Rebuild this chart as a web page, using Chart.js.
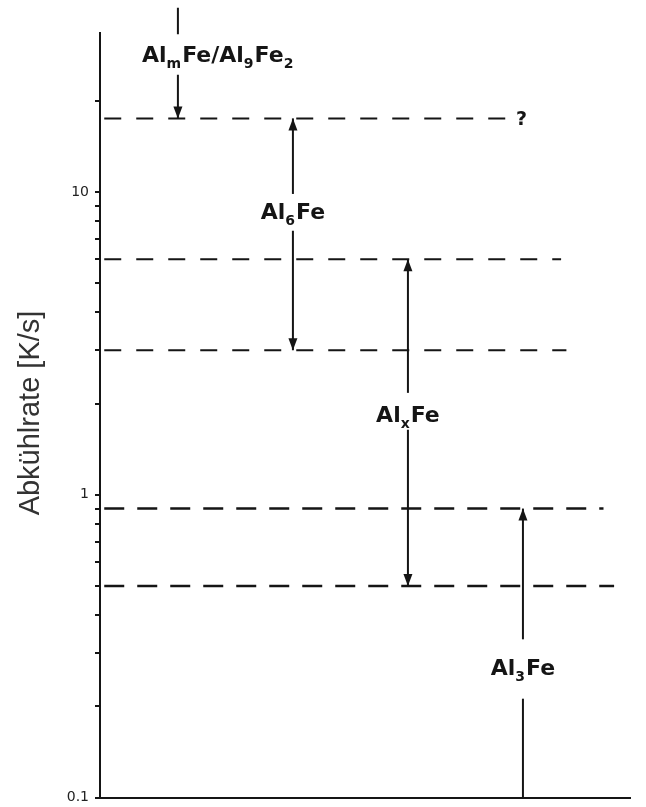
<!DOCTYPE html>
<html>
<head>
<meta charset="utf-8">
<script src="https://cdn.jsdelivr.net/npm/chart.js@4/dist/chart.umd.min.js"></script>
<style>
  html, body { margin: 0; padding: 0; background: #fff; }
</style>
</head>
<body>
<canvas id="myChart" width="646" height="807"></canvas>
<script>
// y axis ticks (log scale), only the decades get a label
var yTicks = [0.1, 0.2, 0.3, 0.4, 0.5, 0.6, 0.7, 0.8, 0.9, 1, 2, 3, 4, 5, 6, 7, 8, 9, 10, 20];
var yTickLabels = { '0.1': '0.1', '1': '1', '10': '10' };

// critical cooling rates [K/s] (dashed levels) and how far they run along x
var levels = [17.5, 6, 3, 0.9, 0.5];
var levelEnd = [77, 87, 88, 95, 97];

// phases, their arrow positions and ranges
var phases = ['AlmFe/Al9Fe2', 'Al6Fe', 'AlxFe', 'Al3Fe'];
var phaseX = [14.7, 36.4, 58.1, 79.8];
// each arrow: [from, to, head at 'to'] pieces, with a gap for the label
var arrowParts = [
  [[40.6, 33.2, false], [24.4, 17.5, true]],
  [[9.85, 17.5, true], [7.45, 3, true]],
  [[2.17, 6, true], [1.64, 0.5, true]],
  [[0.1, 0.212, false], [0.333, 0.9, true]]
];
// label anchors (x, rate)
var labelX = [22.3, 36.4, 58.1, 79.8];
var labelY = [28, 8.53, 1.82, 0.266];
var labelParts = [
  [['Al', 0], ['m', 1], ['Fe', 0], ['/', 0], ['Al', 0], ['9', 1], ['Fe', 0], ['2', 1]],
  [['Al', 0], ['6', 1], ['Fe', 0]],
  [['Al', 0], ['x', 1], ['Fe', 0]],
  [['Al', 0], ['3', 1], ['Fe', 0]]
];

var ink = '#151515';

var datasets = [];
levels.forEach(function (v, i) {
  datasets.push({
    data: [{ x: 0.8, y: v }, { x: levelEnd[i], y: v }],
    borderColor: ink,
    borderWidth: i < 3 ? 2 : 2.5,
    borderDash: i < 3 ? [17, 15] : [20, 13],
    pointRadius: 0,
    clip: false
  });
});
arrowParts.forEach(function (parts, i) {
  parts.forEach(function (p) {
    datasets.push({
      data: [{ x: phaseX[i], y: p[0] }, { x: phaseX[i], y: p[1] }],
      borderColor: ink,
      borderWidth: 2,
      pointRadius: 0,
      clip: false
    });
  });
});

var overlay = {
  id: 'overlay',
  afterDatasetsDraw: function (chart) {
    var c = chart.ctx, xs = chart.scales.x, ys = chart.scales.y;
    c.save();
    c.fillStyle = ink;
    // arrow heads
    arrowParts.forEach(function (parts, i) {
      parts.forEach(function (p) {
        if (!p[2]) return;
        var px = xs.getPixelForValue(phaseX[i]);
        var tip = ys.getPixelForValue(p[1]);
        var dir = p[1] > p[0] ? 1 : -1; // 1 = pointing up
        c.beginPath();
        c.moveTo(px, tip);
        c.lineTo(px - 4.5, tip + dir * 12);
        c.lineTo(px + 4.5, tip + dir * 12);
        c.closePath();
        c.fill();
      });
    });
    // phase labels with subscripts
    labelParts.forEach(function (parts, i) {
      var big = 'bold 22px "DejaVu Sans"', small = 'bold 14px "DejaVu Sans"';
      var w = 0;
      parts.forEach(function (p) { c.font = p[1] ? small : big; w += c.measureText(p[0]).width + (p[1] ? 1 : 0); });
      var x = xs.getPixelForValue(labelX[i]) - w / 2;
      var y = ys.getPixelForValue(labelY[i]);
      c.textBaseline = 'middle';
      c.textAlign = 'left';
      parts.forEach(function (p) {
        c.font = p[1] ? small : big;
        c.fillText(p[0], x, y + (p[1] ? 8 : 0));
        x += c.measureText(p[0]).width + (p[1] ? 1 : 0);
      });
    });
    // question mark at the end of the top level
    c.font = 'bold 19px "DejaVu Sans"';
    c.textAlign = 'left';
    c.textBaseline = 'middle';
    c.fillText('?', xs.getPixelForValue(levelEnd[0]) + 8, ys.getPixelForValue(levels[0]) + 2);
    // y axis title
    c.translate(31, 413);
    c.rotate(-Math.PI / 2);
    c.textAlign = 'center';
    c.fillStyle = '#333';
    c.font = '29px "Liberation Sans"';
    c.fillText('Abkühlrate [K/s]', 0, 0);
    c.restore();
  }
};

var ctx = document.getElementById('myChart').getContext('2d');
var myChart = new Chart(ctx, {
  type: 'line',
  data: { datasets: datasets },
  plugins: [overlay],
  options: {
    responsive: false,
    animation: false,
    layout: { padding: { top: 33, right: 16, bottom: 5, left: 0 } },
    plugins: {
      legend: { display: false },
      tooltip: { enabled: false }
    },
    scales: {
      x: {
        type: 'linear',
        min: 0,
        max: 100,
        ticks: { display: false },
        grid: { display: false },
        border: { color: ink, width: 2 },
        afterFit: function (s) { s.height = 0; }
      },
      y: {
        type: 'logarithmic',
        min: 0.1,
        max: 33.5,
        afterBuildTicks: function (s) {
          s.ticks = yTicks.map(function (v) { return { value: v }; });
        },
        afterFit: function (s) { s.width = 100; },
        ticks: {
          autoSkip: false,
          padding: 6,
          color: '#222',
          font: { size: 14, family: 'DejaVu Sans', lineHeight: 0.5 },
          callback: function (v) { return yTickLabels[String(v)] || ''; }
        },
        grid: { drawOnChartArea: false, tickLength: 5, color: ink, lineWidth: 2 },
        border: { color: ink, width: 2 }
      }
    }
  }
});
</script>
</body>
</html>
